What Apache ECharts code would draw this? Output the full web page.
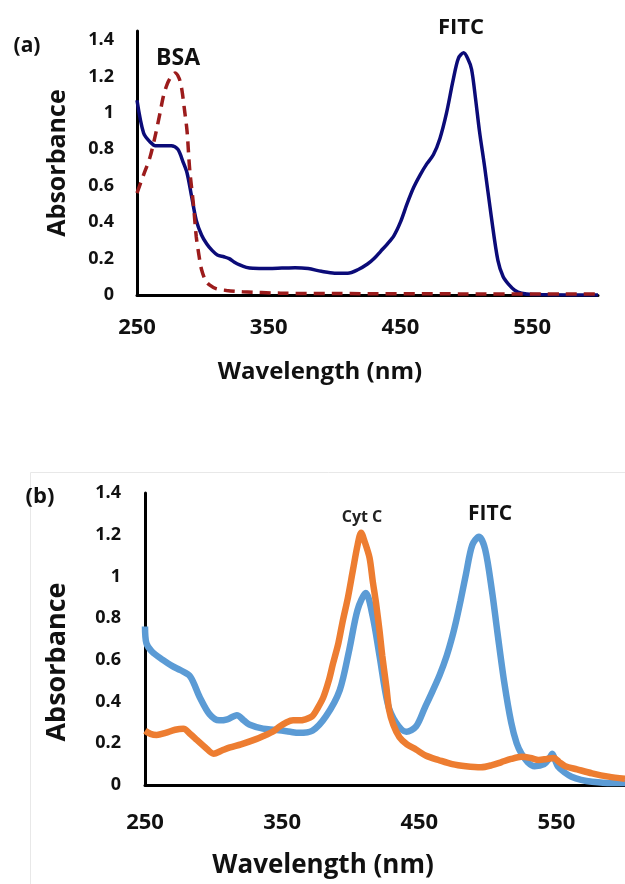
<!DOCTYPE html>
<html>
<head>
<meta charset="utf-8">
<script src="https://cdn.jsdelivr.net/npm/echarts@6/dist/echarts.min.js"></script>
<style>
html,body{margin:0;padding:0;background:#fff;}
#chart{width:625px;height:884px;}
</style>
</head>
<body>
<div id="chart"></div>
<script>
// ---------- DATA ----------
const xTickLabels = [250, 350, 450, 550];

// Panel (a): FITC (solid navy)
const aFitcWl  = [250,255,260,264,270,276,281,285,288,291.5,295,299,303,307,311,316,320,324,328,333,338,350,360,370,380,390,400,410,418,425,430,435,440,445,450,455,460,465,470,475,480,485,490,494,498,501,504,507,510,514,519,524,528,532,537,542,550,600];
const aFitcAbs = [1.07,0.89,0.84,0.82,0.82,0.82,0.80,0.73,0.67,0.54,0.41,0.33,0.28,0.245,0.22,0.21,0.20,0.18,0.165,0.152,0.147,0.146,0.148,0.15,0.145,0.13,0.12,0.12,0.14,0.17,0.20,0.24,0.28,0.325,0.40,0.50,0.59,0.66,0.72,0.77,0.86,1.0,1.18,1.30,1.33,1.30,1.24,1.08,0.90,0.70,0.43,0.19,0.10,0.06,0.025,0.01,0.003,0];

// Panel (a): BSA (dashed dark red)
const aBsaWl  = [250,255,260,264,267.5,270,273,276,279,282,284,286,288,290,292.8,295,297,299,302,305,310,318,330,359,400,500,600];
const aBsaAbs = [0.56,0.66,0.76,0.88,1.0,1.09,1.16,1.20,1.22,1.19,1.13,1.02,0.90,0.69,0.50,0.32,0.22,0.14,0.08,0.055,0.035,0.025,0.018,0.01,0.008,0.006,0.005];

// Panel (b): FITC-labelled (blue)
const bBlueWl  = [250,251,255,263,270,276,283,290,297,304,310,317,322,326,336,345,356,362,372,382,392,399,405,411,416,421,427,433,440.6,447.6,454,460,465,470,474,477,480,484,488.6,493.5,498,503,507,512,517,521,524.5,529,534,541,545,547,549,551,556,561,568,576,590,600];
const bBlueAbs = [0.76,0.68,0.64,0.60,0.57,0.55,0.52,0.42,0.34,0.31,0.315,0.335,0.31,0.29,0.27,0.265,0.255,0.25,0.26,0.33,0.455,0.65,0.84,0.92,0.81,0.62,0.39,0.30,0.255,0.28,0.37,0.455,0.53,0.62,0.71,0.79,0.88,1.01,1.15,1.19,1.13,0.93,0.73,0.49,0.30,0.20,0.15,0.11,0.09,0.10,0.13,0.15,0.12,0.09,0.06,0.04,0.025,0.016,0.01,0.01];

// Panel (b): Cyt C (orange)
const bOrangeWl  = [250,254,258.5,265,272,278,283,288,294,300,306,312,320,331,338,343,348,353,358,362,367,372,376,380,384,387,391,394,398,401.6,405,407.6,410,413.7,416,418.5,421,423,426,428,431,435.5,441,447.6,455,464,474,484,495,503,510,517,524.5,531,537,543,548,552,556.5,565,576,588,600];
const bOrangeAbs = [0.26,0.245,0.24,0.25,0.265,0.27,0.245,0.215,0.18,0.15,0.165,0.18,0.195,0.22,0.24,0.255,0.28,0.30,0.31,0.31,0.315,0.33,0.37,0.42,0.50,0.58,0.68,0.78,0.90,1.03,1.15,1.21,1.17,1.09,0.98,0.87,0.74,0.62,0.47,0.36,0.29,0.23,0.195,0.17,0.14,0.12,0.10,0.09,0.085,0.095,0.11,0.125,0.135,0.13,0.12,0.125,0.13,0.11,0.09,0.075,0.056,0.04,0.03];

// ---------- BUILD ----------
const pairs = (xs, ys) => xs.map((x, i) => [x, ys[i]]);
const FONT = '"Open Sans", "Noto Sans", sans-serif';

function xAxisCfg(gridIndex, labelMargin, labelSize) {
  return {
    type: 'value', gridIndex, min: 250, max: 600,
    axisLine: { show: true, lineStyle: { color: '#000', width: 3 } },
    axisTick: { show: false },
    splitLine: { show: false },
    axisLabel: { customValues: xTickLabels, margin: labelMargin, color: '#111',
      fontFamily: FONT, fontWeight: 'bold', fontSize: labelSize }
  };
}
function yAxisCfg(gridIndex, max, labelMargin) {
  return {
    type: 'value', gridIndex, min: 0, max, interval: 0.2,
    axisLine: { show: true, lineStyle: { color: '#000', width: 3 } },
    axisTick: { show: false },
    splitLine: { show: false },
    axisLabel: { margin: labelMargin, color: '#111', fontFamily: FONT, fontWeight: 'bold', fontSize: 18,
      showMaxLabel: max <= 1.4,
      formatter: v => (Math.round(v * 10) / 10).toString() }
  };
}
function txt(text, x, y, size, rot, color) {
  return { type: 'text', x, y, rotation: rot || 0,
    style: { text, font: 'bold ' + size + 'px "Open Sans"', fill: color || '#111', align: 'center', verticalAlign: 'middle' } };
}

const option = {
  backgroundColor: '#fff',
  animation: false,
  grid: [
    { left: 137, top: 31, width: 461, height: 264 },
    { left: 145, top: 493, width: 481, height: 292 }
  ],
  xAxis: [ xAxisCfg(0, 22, 22), xAxisCfg(1, 27, 22) ],
  yAxis: [ yAxisCfg(0, 1.45, 23), yAxisCfg(1, 1.4, 24) ],
  series: [
    { name: 'FITC', type: 'line', xAxisIndex: 0, yAxisIndex: 0, data: pairs(aFitcWl, aFitcAbs),
      smooth: 0.3, showSymbol: false, lineStyle: { color: '#0b0b78', width: 3.5 } },
    { name: 'BSA', type: 'line', xAxisIndex: 0, yAxisIndex: 0, data: pairs(aBsaWl, aBsaAbs),
      smooth: 0.3, showSymbol: false, lineStyle: { color: '#9c1c1c', width: 3.5, type: [11, 7] } },
    { name: 'FITC (b)', type: 'line', xAxisIndex: 1, yAxisIndex: 1, data: pairs(bBlueWl, bBlueAbs),
      smooth: 0.3, showSymbol: false, lineStyle: { color: '#5b9bd5', width: 6.5 } },
    { name: 'Cyt C', type: 'line', xAxisIndex: 1, yAxisIndex: 1, data: pairs(bOrangeWl, bOrangeAbs),
      smooth: 0.3, showSymbol: false, lineStyle: { color: '#ed7d31', width: 6.5 } }
  ],
  graphic: [
    { type: 'rect', z: -10, shape: { x: 30.5, y: 472.5, width: 640, height: 440 },
      style: { fill: 'none', stroke: '#e8e8e8', lineWidth: 1 } },
    txt('(a)', 27, 46, 21),
    txt('BSA', 178, 58, 23),
    txt('FITC', 461, 28, 22),
    txt('(b)', 40, 497, 22),
    txt('Cyt C', 362, 517, 16, 0, '#222'),
    txt('FITC', 490, 514, 21),
    txt('Absorbance', 58, 163, 25, Math.PI / 2),
    txt('Wavelength (nm)', 320, 372, 24),
    txt('Absorbance', 57, 662, 27, Math.PI / 2),
    txt('Wavelength (nm)', 323, 866, 26)
  ]
};

const chart = echarts.init(document.getElementById('chart'), null, { renderer: 'canvas' });
chart.setOption(option);
</script>
</body>
</html>
